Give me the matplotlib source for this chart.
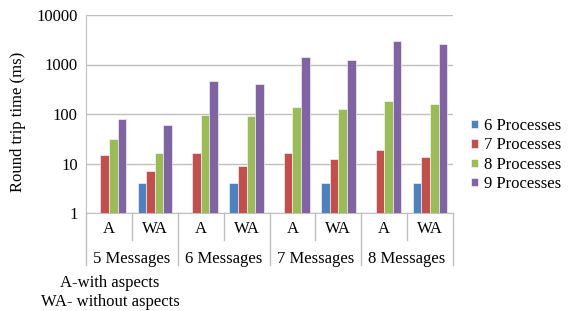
import matplotlib
matplotlib.use("Agg")
import matplotlib.pyplot as plt
import numpy as np

plt.rcParams['font.family'] = ['Liberation Serif', 'DejaVu Serif']

groups = ["5 Messages", "6 Messages", "7 Messages", "8 Messages"]
subcats = ["A", "WA"]
series = ["6 Processes", "7 Processes", "8 Processes", "9 Processes"]
# order: 5A, 5WA, 6A, 6WA, 7A, 7WA, 8A, 8WA  (None = no bar)
p6 = [None, 4, None, 4, None, 4, None, 4]
p7 = [15, 7, 16, 9, 16, 12.5, 18.7, 13.5]
p8 = [31, 16, 94, 91, 138, 126, 183, 157]
p9 = [78, 60, 464, 404, 1416, 1216, 2966, 2634]
colors = ["#4F81BD", "#C0504D", "#9BBB59", "#8064A2"]
yticks = [1, 10, 100, 1000, 10000]
notes = ["A-with aspects", "WA- without aspects"]

W, H = 568, 311
fig = plt.figure(figsize=(W / 100, H / 100), dpi=100)
L, R, T, B = 86, 453, 15, 213
ax = fig.add_axes([L / W, 1 - B / H, (R - L) / W, (B - T) / H])
ax.set_yscale('log')
ax.set_ylim(1, 10000)
ax.set_xlim(0, 8)

n = len(p7)
x = np.arange(n) + 0.5
bw = 0.188
for i, (vals, c, lab) in enumerate(zip([p6, p7, p8, p9], colors, series)):
    xs = [x[k] + (i - 1.5) * bw for k in range(n) if vals[k] is not None]
    vs = [v for v in vals if v is not None]
    ax.bar(xs, vs, width=bw, color=c, label=lab, edgecolor='white', linewidth=0.4, zorder=3)

ax.set_yticks(yticks)
ax.set_yticklabels([str(t) for t in yticks])
ax.yaxis.set_minor_locator(matplotlib.ticker.NullLocator())
ax.tick_params(axis='y', length=0, labelsize=12, pad=6)
ax.set_xticks([])
ax.grid(axis='y', color='#BFBFBF', linewidth=1, zorder=0)
for s in ['top', 'right']:
    ax.spines[s].set_visible(False)
ax.spines['left'].set_color('#BFBFBF')
ax.spines['bottom'].set_color('#BFBFBF')

def fx(xd):
    return (L + xd / 8 * (R - L)) / W

def fy(py):
    return 1 - py / H

for k in range(n):
    fig.text(fx(x[k]), fy(229), subcats[k % 2], ha='center', va='center', fontsize=12)
for g, name in enumerate(groups):
    fig.text(fx(2 * g + 1), fy(259), name, ha='center', va='center', fontsize=12)
for xb in range(0, 9):
    bottom = 265 if xb % 2 == 0 else 240
    fig.add_artist(plt.Line2D([fx(xb), fx(xb)], [fy(B), fy(bottom)], color='#BFBFBF', linewidth=1))

fig.text(110 / W, fy(283), notes[0], ha='center', va='center', fontsize=12)
fig.text(110 / W, fy(302), notes[1], ha='center', va='center', fontsize=12)

fig.text(18 / W, fy(122), "Round trip time (ms)", rotation=90, ha='center', va='center', fontsize=12)

leg = ax.legend(loc='center left', bbox_to_anchor=(471 / W, fy(155)), bbox_transform=fig.transFigure,
                frameon=False, fontsize=12, handlelength=0.4, handleheight=0.4, handletextpad=0.35,
                labelspacing=0.2, borderpad=0, borderaxespad=0)

fig.savefig("out.png", dpi=100)
